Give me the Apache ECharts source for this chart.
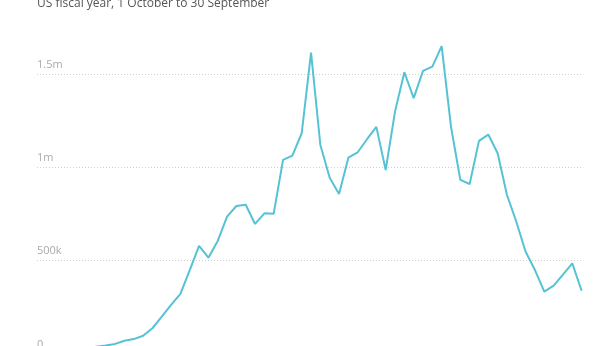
<!DOCTYPE html>
<html>
<head>
<meta charset="utf-8">
<style>
html,body{margin:0;padding:0;background:#fff;}
#chart{width:616px;height:346px;}
</style>
<script src="https://cdn.jsdelivr.net/npm/echarts@6/dist/echarts.min.js"></script>
</head>
<body>
<div id="chart"></div>
<script>
const subtitle = "US fiscal year, 1 October to 30 September";
const years = [1960,1961,1962,1963,1964,1965,1966,1967,1968,1969,
  1970,1971,1972,1973,1974,1975,1976,1977,1978,1979,
  1980,1981,1982,1983,1984,1985,1986,1987,1988,1989,
  1990,1991,1992,1993,1994,1995,1996,1997,1998,1999,
  2000,2001,2002,2003,2004,2005,2006,2007,2008,2009,
  2010,2011,2012,2013,2014,2015];
const apprehensions = [21000,29000,30000,39000,45000,54000,71000,80000,98000,138000,
  200000,263000,322000,450000,579000,516000,606000,736000,793000,800000,
  697000,754000,752000,1040000,1063000,1183000,1615000,1120000,945000,858000,
  1052000,1081000,1151000,1217000,986000,1299000,1510000,1371000,1517000,1540000,
  1650000,1218000,933000,911000,1142000,1176000,1076000,852000,709000,548000,
  450000,334000,366000,425000,486000,339000];
const yTicks = [0,500000,1000000,1500000,2000000];
const yTickLabels = {0:"0",500000:"500k",1000000:"1m",1500000:"1.5m",2000000:"2m"};

const chart = echarts.init(document.getElementById('chart'), null, {renderer:'canvas'});
chart.setOption({
  animation:false,
  backgroundColor:'#fff',
  textStyle:{fontFamily:'"Open Sans", sans-serif'},
  title:{
    text: subtitle,
    left: 37, top: -2, padding:0,
    textStyle:{fontSize:12, fontWeight:'normal', color:'#555', fontFamily:'"Open Sans", sans-serif'}
  },
  grid:{left:37, right:616-583.3, top:-19.2, bottom:-8, outerBoundsMode:'none', containLabel:false},
  xAxis:{
    type:'value', min:1956.63, max:2015.18,
    show:false
  },
  yAxis:{
    type:'value', min:yTicks[0], max:yTicks[yTicks.length-1], interval:500000,
    axisLine:{show:false}, axisTick:{show:false},
    axisLabel:{
      inside:true, margin:0, align:'left', verticalAlign:'bottom',
      padding:[0,0,4,0],
      color:'#aaa', fontSize:11, fontFamily:'"Open Sans", sans-serif',
      formatter: v => yTickLabels[v]
    },
    splitLine:{show:true, lineStyle:{color:'#cfcfcf', type:[1,2], width:1}}
  },
  series:[{
    type:'line',
    data: years.map((y,i)=>[y, apprehensions[i]]),
    showSymbol:false,
    lineStyle:{color:'#55c3d4', width:2},
    itemStyle:{color:'#55c3d4'},
    z:3
  }]
});
</script>
</body>
</html>
